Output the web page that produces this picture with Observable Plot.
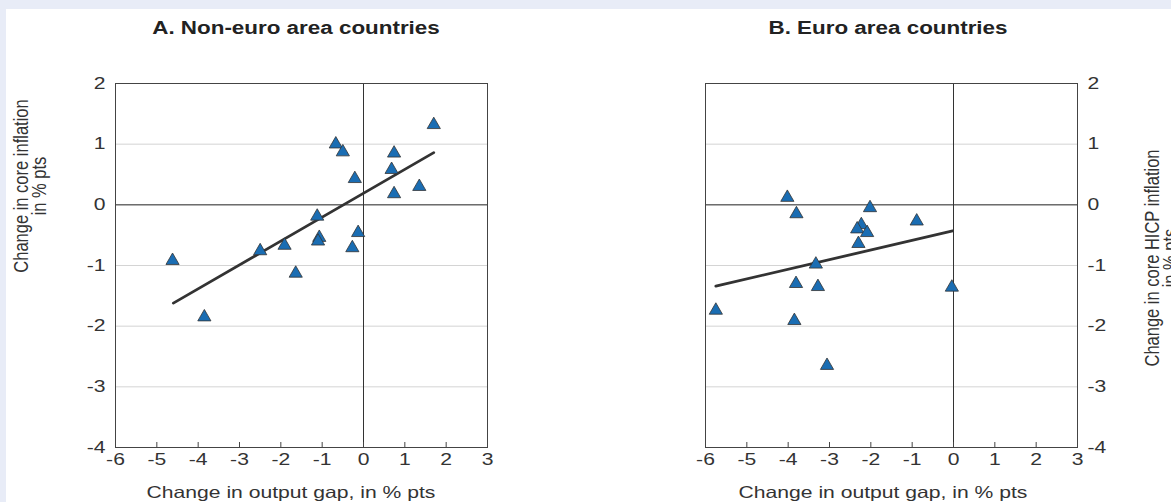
<!DOCTYPE html>
<html>
<head>
<meta charset="utf-8">
<script src="https://cdn.jsdelivr.net/npm/d3@7"></script>
<script src="https://cdn.jsdelivr.net/npm/@observablehq/plot@0.6"></script>
<style>
  html, body { margin: 0; padding: 0; }
  body { width: 1171px; height: 502px; overflow: hidden; font-family: "Liberation Sans", Arial, sans-serif; }
  #wrap { position: relative; width: 1171px; height: 502px; background: #e8ecf7; overflow: hidden; }
  #inner { position: absolute; left: 6px; top: 9px; width: 1165px; height: 493px; background: #fff; }
  .panel { position: absolute; top: 0; }
  .ptitle { position: absolute; font-weight: bold; font-size: 17.5px; color: #222; white-space: nowrap; transform: translate(-50%, -50%) scaleX(1.28); }
  .xtitle { position: absolute; font-size: 16.5px; color: #333; white-space: nowrap; transform: translate(-50%, -50%) scaleX(1.28); }
  .ytitle { position: absolute; font-size: 16.5px; color: #333; white-space: nowrap; text-align: center; line-height: 14px; transform: translate(-50%, -50%) scaleX(1.28) rotate(-90deg); }
</style>
</head>
<body>
<div id="wrap">
  <div id="inner"></div>
</div>
<script>
// ---- Data ----
const panelTitles = ["A. Non-euro area countries", "B. Euro area countries"];
const xAxisTitle = "Change in output gap, in % pts";
const yTitleA = ["Change in core inflation", "in % pts"];
const yTitleB = ["Change in core HICP inflation", "in % pts"];

const xTicks = [-6, -5, -4, -3, -2, -1, 0, 1, 2, 3];
const yTicks = [-4, -3, -2, -1, 0, 1, 2];

// Panel A: non-euro area countries
const gapA  = [1.70, -0.67, -0.50, 0.74, 0.68, -0.21, 1.35, 0.74, -1.12, -1.07, -1.10, -0.13, -0.27, -1.91, -2.50, -1.64, -4.62, -3.85];
const inflA = [1.32,  1.00,  0.87, 0.85, 0.58,  0.43, 0.30, 0.18, -0.19, -0.54, -0.60, -0.46, -0.71, -0.67, -0.76, -1.13, -0.92, -1.85];
const fitGapA  = [-4.60, 1.70];
const fitInflA = [-1.62, 0.86];

// Panel B: euro area countries
const gapB  = [-4.02, -3.80, -2.02, -0.89, -2.23, -2.33, -2.09, -2.30, -3.33, -3.81, -3.28, -0.04, -5.75, -3.85, -3.06];
const inflB = [ 0.12, -0.15, -0.05, -0.27, -0.33, -0.40, -0.46, -0.64, -0.98, -1.30, -1.35, -1.36, -1.74, -1.91, -2.65];
const fitGapB  = [-5.75, -0.02];
const fitInflB = [-1.34, -0.43];

// ---- Build ----
const wrap = document.getElementById("wrap");
const H = 502;
const mTop = 83, mBottom = 55;
const blue = "#1a6db3";
const stretch = 1.28;

function panel(gap, infl, fitGap, fitInfl, opts) {
  const pts = gap.map((g, i) => ({gap: g, infl: infl[i]}));
  const fit = fitGap.map((g, i) => ({gap: g, infl: fitInfl[i]}));
  const svg = Plot.plot({
    width: opts.width,
    height: H,
    marginLeft: opts.marginLeft,
    marginRight: opts.marginRight,
    marginTop: mTop,
    marginBottom: mBottom,
    style: {background: "transparent", fontFamily: "'Liberation Sans', Arial, sans-serif", fontSize: "16.5px", color: "#333"},
    x: {domain: [-6, 3]},
    y: {domain: [-4, 2]},
    marks: [
      Plot.gridY({ticks: yTicks, stroke: "#d4d4d4", strokeOpacity: 1, strokeWidth: 1}),
      Plot.ruleY([0], {stroke: "#333", strokeWidth: 1}),
      Plot.ruleX([0], {stroke: "#333", strokeWidth: 1}),
      Plot.gridX({ticks: xTicks, stroke: "#444", strokeOpacity: 1, insetTop: 359}),
      Plot.axisX({ticks: xTicks, tickSize: 0, tickPadding: 6, label: null, fontSize: 16.5, tickFormat: d => String(d)}),
      Plot.axisY({ticks: yTicks, anchor: opts.yAnchor, tickSize: 0, tickPadding: 10, label: null, fontSize: 16.5, tickFormat: d => String(d)}),
      Plot.frame({stroke: "#444", strokeWidth: 1}),
      Plot.line(fit, {x: "gap", y: "infl", stroke: "#333", strokeWidth: 2.8}),
      Plot.dot(pts, {x: "gap", y: "infl", symbol: "triangle", r: 4.9, fill: blue, stroke: "#333", strokeWidth: 0.8})
    ]
  });
  // widen the tick labels to match the reference's horizontally stretched lettering
  svg.querySelectorAll("text").forEach(t => {
    const tr = t.getAttribute("transform") || "";
    t.setAttribute("transform", tr + ` scale(${stretch},1)`);
  });
  return svg;
}

const chartA = panel(gapA, inflA, fitGapA, fitInflA, {width: 585, marginLeft: 115, marginRight: 98, yAnchor: "left"});
chartA.classList.add("panel");
chartA.style.left = "0px";
wrap.appendChild(chartA);

const chartB = panel(gapB, inflB, fitGapB, fitInflB, {width: 586, marginLeft: 120, marginRight: 94, yAnchor: "right"});
chartB.classList.add("panel");
chartB.style.left = "585px";
wrap.appendChild(chartB);

function addDiv(cls, html, left, top) {
  const d = document.createElement("div");
  d.className = cls;
  d.innerHTML = html;
  d.style.left = left + "px";
  d.style.top = top + "px";
  wrap.appendChild(d);
  return d;
}

addDiv("ptitle", panelTitles[0], 296, 28);
addDiv("ptitle", panelTitles[1], 888, 28);
addDiv("xtitle", xAxisTitle, 291, 492);
addDiv("xtitle", xAxisTitle, 883, 492);
addDiv("ytitle", yTitleA.join("<br>"), 29, 186);
addDiv("ytitle", yTitleB.join("<br>"), 1160, 258);
</script>
</body>
</html>
